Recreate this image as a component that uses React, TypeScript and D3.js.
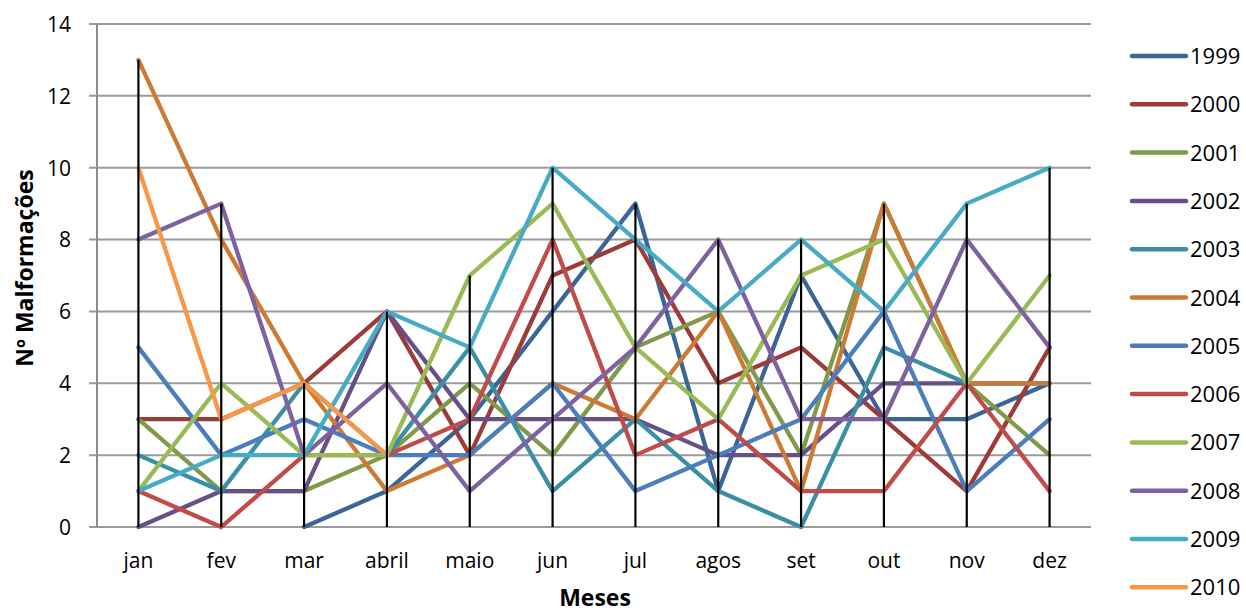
import React from "react";
import * as d3 from "d3";

// Monthly counts of malformations per year
const months = ["jan", "fev", "mar", "abril", "maio", "jun", "jul", "agos", "set", "out", "nov", "dez"];
const years = ["1999", "2000", "2001", "2002", "2003", "2004", "2005", "2006", "2007", "2008", "2009", "2010"];

const s1999 = [null, null, 0, 1, 3, 6, 9, 1, 7, 3, 3, 4];
const s2000 = [3, 3, 4, 6, 2, 7, 8, 4, 5, 3, 1, 5];
const s2001 = [3, 1, 1, 2, 4, 2, 5, 6, 2, 9, 4, 2];
const s2002 = [0, 1, 1, 6, 3, 3, 3, 2, 2, 4, 4, 4];
const s2003 = [2, 1, 4, 2, 5, 1, 3, 1, 0, 5, 4, 4];
const s2004 = [13, 8, 4, 1, 2, 4, 3, 6, 1, 9, 4, 4];
const s2005 = [5, 2, 3, 2, 2, 4, 1, 2, 3, 6, 1, 3];
const s2006 = [1, 0, 2, 2, 3, 8, 2, 3, 1, 1, 4, 1];
const s2007 = [1, 4, 2, 2, 7, 9, 5, 3, 7, 8, 4, 7];
const s2008 = [8, 9, 2, 4, 1, 3, 5, 8, 3, 3, 8, 5];
const s2009 = [1, 2, 2, 6, 5, 10, 8, 6, 8, 6, 9, 10];
const s2010 = [10, 3, 4, 2, null, null, null, null, null, null, null, null];

const seriesValues: (number | null)[][] = [
  s1999, s2000, s2001, s2002, s2003, s2004, s2005, s2006, s2007, s2008, s2009, s2010,
];

const colors = [
  "#3C6597", "#9D3B39", "#7F9B49", "#674F88", "#3A8FA6", "#CD7B34",
  "#4A7EBC", "#BF4C49", "#99BA55", "#7E61A1", "#47ABC6", "#F89747",
];

const yTicks = [0, 2, 4, 6, 8, 10, 12, 14];

const W = 1246;
const H = 612;
const plot = { left: 97, right: 1091, top: 24, bottom: 527 };
const FONT = "'Open Sans', 'Noto Sans', sans-serif";

export default function App() {
  const x = d3
    .scalePoint<string>()
    .domain(months)
    .range([plot.left, plot.right])
    .padding(0.5);
  const y = d3.scaleLinear().domain([0, 14]).range([plot.bottom, plot.top]);

  const line = d3
    .line<number | null>()
    .defined((d) => d !== null)
    .x((_, i) => x(months[i]) as number)
    .y((d) => y(d as number));

  // drop lines: from the highest value of each month down to the axis
  const maxPerMonth = months.map((_, i) =>
    d3.max(seriesValues, (s) => (s[i] === null ? undefined : (s[i] as number))) as number
  );

  const legendX = 1132;
  const legendY0 = 56;
  const legendStep = 48.3;

  return (
    <svg
      width={W}
      height={H}
      style={{ position: "absolute", left: 0, top: 0, background: "#fff" }}
      fontFamily={FONT}
    >
      {/* horizontal gridlines */}
      {yTicks.map((t) => (
        <line
          key={"g" + t}
          x1={plot.left - 8}
          x2={plot.right}
          y1={y(t)}
          y2={y(t)}
          stroke="#9a9a9a"
          strokeWidth={2}
        />
      ))}
      {/* y axis line */}
      <line x1={plot.left} x2={plot.left} y1={plot.top} y2={plot.bottom} stroke="#8c8c8c" strokeWidth={2} />

      {/* y tick labels */}
      {yTicks.map((t) => (
        <text
          key={"yl" + t}
          x={71}
          y={y(t) + 7.8}
          textAnchor="end"
          fontSize={21}
          fill="#000"
        >
          {t}
        </text>
      ))}

      {/* series */}
      {seriesValues.map((s, i) => (
        <path
          key={years[i]}
          d={line(s) || ""}
          fill="none"
          stroke={colors[i]}
          strokeWidth={4.3}
          strokeLinejoin="round"
          strokeLinecap="round"
        />
      ))}

      {/* drop lines */}
      {months.map((m, i) => (
        <line
          key={"d" + m}
          x1={x(m)}
          x2={x(m)}
          y1={y(maxPerMonth[i])}
          y2={y(0)}
          stroke="#000"
          strokeWidth={2.2}
        />
      ))}

      {/* x labels */}
      {months.map((m) => (
        <text key={"xl" + m} x={x(m)} y={568} textAnchor="middle" fontSize={21} fill="#000">
          {m}
        </text>
      ))}

      {/* axis titles */}
      <text x={595} y={606} textAnchor="middle" fontSize={23} fontWeight="bold" fill="#000">
        Meses
      </text>
      <text
        transform={`translate(33, 268) rotate(-90)`}
        textAnchor="middle"
        fontSize={23}
        fontWeight="bold"
        fill="#000"
      >
        Nº Malformações
      </text>

      {/* legend */}
      {years.map((yr, i) => {
        const ly = legendY0 + i * legendStep;
        return (
          <g key={"lg" + yr}>
            <line
              x1={legendX}
              x2={legendX + 54}
              y1={ly}
              y2={ly}
              stroke={colors[i]}
              strokeWidth={4.5}
              strokeLinecap="round"
            />
            <text x={1190} y={ly + 8} fontSize={22} fill="#000">
              {yr}
            </text>
          </g>
        );
      })}
    </svg>
  );
}
